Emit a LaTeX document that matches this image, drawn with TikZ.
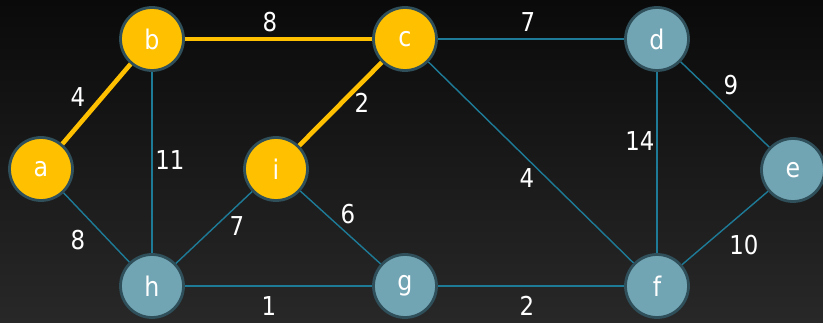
\documentclass[tikz,border=0pt]{standalone}
\usepackage{fontspec}
\setmainfont{DejaVu Sans}[FakeStretch=0.88]
\begin{document}
\begin{tikzpicture}[x=1pt,y=-1pt,
  vtx/.style={circle,minimum size=63pt,inner sep=0pt,line width=2.8pt,draw=nodeborder,text=white,font=\fontsize{27}{27}\selectfont},
  hot/.style={vtx,fill=hotfill},
  cold/.style={vtx,fill=coldfill},
  edge/.style={draw=edgecol,line width=1.4pt},
  hedge/.style={draw=hotfill,line width=4.6pt},
  wt/.style={text=white,font=\fontsize{26}{26}\selectfont,inner sep=0pt}]
\definecolor{hotfill}{HTML}{FFC000}
\definecolor{coldfill}{HTML}{72A5B4}
\definecolor{nodeborder}{HTML}{2F4F5A}
\definecolor{edgecol}{HTML}{1E7B98}
\shade[top color={rgb,255:red,10;green,10;blue,10},bottom color={rgb,255:red,40;green,40;blue,40}] (0,0) rectangle (823,323);
\useasboundingbox (0,0) rectangle (823,323);
\node[hot] (a) at (41,169) {a};
\node[hot] (b) at (152,39) {b};
\node[hot] (c) at (405,39) {c};
\node[cold] (d) at (657,39) {d};
\node[cold] (e) at (793,170) {e};
\node[cold] (f) at (657,286) {f};
\node[cold] (g) at (405,286) {g};
\node[cold] (h) at (152,286) {h};
\node[hot] (i) at (276,169) {i};
\draw[edge] (b) -- (h);
\draw[edge] (a) -- (h);
\draw[edge] (h) -- (i);
\draw[edge] (h) -- (g);
\draw[edge] (i) -- (g);
\draw[edge] (g) -- (f);
\draw[edge] (c) -- (d);
\draw[edge] (c) -- (f);
\draw[edge] (d) -- (f);
\draw[edge] (d) -- (e);
\draw[edge] (e) -- (f);
\draw[hedge] (a) -- (b);
\draw[hedge] (b) -- (c);
\draw[hedge] (c) -- (i);
\node[wt] (w1) at (270,22) {8};
\node[wt] (w2) at (528,22) {7};
\node[wt] (w3) at (78,97) {4};
\node[wt] (w4) at (170,160) {11};
\node[wt] (w5) at (362,103) {2};
\node[wt] (w6) at (527,178) {4};
\node[wt] (w7) at (640,141) {14};
\node[wt] (w8) at (731,85) {9};
\node[wt] (w9) at (744,245) {10};
\node[wt] (w10) at (78,240) {8};
\node[wt] (w11) at (237,226) {7};
\node[wt] (w12) at (348,214) {6};
\node[wt] (w13) at (269,306) {1};
\node[wt] (w14) at (527,306) {2};
\end{tikzpicture}
\end{document}
